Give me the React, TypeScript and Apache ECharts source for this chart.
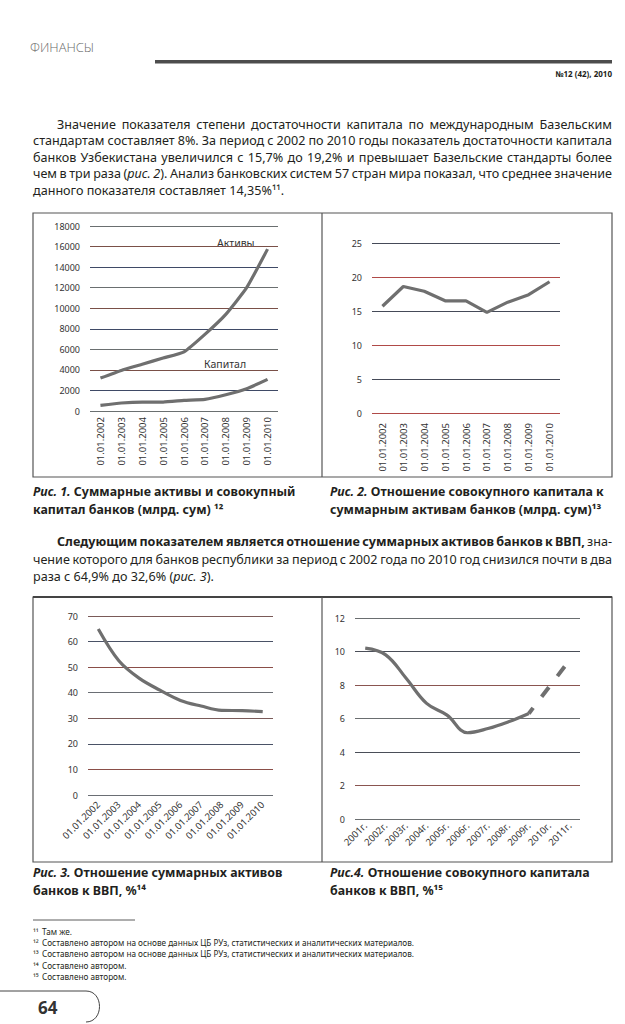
import React, { useEffect, useRef } from 'react';
import * as echarts from 'echarts';

const dateCats = ['01.01.2002', '01.01.2003', '01.01.2004', '01.01.2005', '01.01.2006', '01.01.2007', '01.01.2008', '01.01.2009', '01.01.2010'];
const assets = [3200, 3950, 4550, 5150, 5750, 7450, 9400, 12000, 15750];
const capital = [550, 780, 870, 870, 1030, 1130, 1580, 2170, 3080];
const capToAssets = [15.7, 18.6, 17.9, 16.5, 16.5, 14.8, 16.3, 17.4, 19.3];
const assetsToGdp = [64.9, 52.5, 45.6, 41.0, 37.0, 34.8, 33.1, 33.0, 32.6];
const yearCats = ['2001г.', '2002г.', '2003г.', '2004г.', '2005г.', '2006г.', '2007г.', '2008г.', '2009г.', '2010г.', '2011г.'];
const capToGdp = [10.2, 9.8, 8.4, 6.9, 6.2, 5.15, 5.4, 5.8, 6.3, null, null];
const capToGdpForecast = [null, null, null, null, null, null, null, null, 6.3, 7.9, 9.5];

const FAMILY = '"Noto Sans"';
const FONT = '"Noto Sans", "Open Sans", sans-serif';
const TXT = '#231f20';
const LINE = '#6f6f6f';
const BODY = 12.6;

type Frag = [string, 'n' | 'i' | 'b'];

const fragStyle: Record<string, { fontStyle: string; fontWeight: string }> = {
  n: { fontStyle: 'normal', fontWeight: 'normal' },
  i: { fontStyle: 'italic', fontWeight: 'normal' },
  b: { fontStyle: 'normal', fontWeight: 'bold' },
};

let ctx: CanvasRenderingContext2D | null = null;
function measure(s: string, key: string, size: number) {
  if (!ctx) ctx = document.createElement('canvas').getContext('2d');
  const st = fragStyle[key];
  ctx!.font = `${st.fontStyle} ${st.fontWeight} ${size}px ${FAMILY}`;
  return ctx!.measureText(s).width;
}

function txt(x: number, y: number, text: string, style: any = {}) {
  return {
    type: 'text',
    x,
    y,
    silent: true,
    style: {
      text,
      fontFamily: FONT,
      fontSize: BODY,
      fill: TXT,
      verticalAlign: 'middle',
      align: 'left',
      ...style,
    },
  };
}

// justified line built as rich text with sized gaps
function justified(x: number, y: number, width: number, frags: Frag[], size = BODY) {
  const words: Frag[][] = [];
  let cur: Frag[] = [];
  frags.forEach(([t, k]) => {
    const parts = t.split(' ');
    parts.forEach((p, idx) => {
      if (idx > 0) {
        if (cur.length) words.push(cur);
        cur = [];
      }
      if (p) cur.push([p, k]);
    });
  });
  if (cur.length) words.push(cur);
  let total = 0;
  words.forEach((w) => w.forEach(([t, k]) => (total += measure(t, k, size))));
  const gap = words.length > 1 ? Math.max(2, (width - total) / (words.length - 1)) : 0;
  const rich: any = {
    n: { fontFamily: FONT, fontSize: size, fill: TXT },
    i: { fontFamily: FONT, fontSize: size, fill: TXT, fontStyle: 'italic' },
    b: { fontFamily: FONT, fontSize: size, fill: TXT, fontWeight: 'bold' },
    g: { fontFamily: FONT, fontSize: size, width: gap },
  };
  const str = words.map((w) => w.map(([t, k]) => `{${k}|${t}}`).join('')).join('{g| }');
  return txt(x, y, str, { rich });
}

const capRich = {
  i: { fontFamily: FONT, fontSize: 12.4, fill: TXT, fontStyle: 'italic', fontWeight: 'bold' },
  b: { fontFamily: FONT, fontSize: 12.4, fill: TXT, fontWeight: 'bold' },
};
const bodyRich = {
  n: { fontFamily: FONT, fontSize: BODY, fill: TXT },
  i: { fontFamily: FONT, fontSize: BODY, fill: TXT, fontStyle: 'italic' },
};

function yAxis(gridIndex: number, max: number, interval: number, colors: string[]) {
  return {
    type: 'value',
    gridIndex,
    min: 0,
    max,
    interval,
    axisLine: { show: false },
    axisTick: { show: false },
    axisLabel: { color: '#333', fontSize: 9, fontFamily: FONT, margin: 10, formatter: (v: number) => String(v) },
    splitLine: { lineStyle: { color: colors, width: 1 } },
  };
}

function xAxis(gridIndex: number, data: string[], rotate: number, margin: number) {
  return {
    type: 'category',
    gridIndex,
    data,
    boundaryGap: true,
    axisLine: { show: false },
    axisTick: { show: false },
    axisLabel: { color: '#333', fontSize: 9.5, fontFamily: FONT, rotate, interval: 0, margin },
  };
}

export default function App() {
  const ref = useRef<HTMLDivElement>(null);
  useEffect(() => {
    document.body.style.margin = '0';
    const chart = echarts.init(ref.current!, undefined, { renderer: 'svg' });
    const lineStyle = { color: LINE, width: 3.2 };
    const fn = { fontSize: 8.2 };
    const option: any = {
      animation: false,
      backgroundColor: '#ffffff',
      grid: [
        { left: 90, top: 226, width: 188, height: 185 },
        { left: 372, top: 243, width: 188, height: 170 },
        { left: 88, top: 616, width: 185, height: 179 },
        { left: 355, top: 618, width: 225, height: 201 },
      ],
      xAxis: [
        xAxis(0, dateCats, 90, 6),
        xAxis(1, dateCats, 90, 10),
        xAxis(2, dateCats, 45, 8),
        xAxis(3, yearCats, 45, 5),
      ],
      yAxis: [
        yAxis(0, 18000, 2000, ['#6a6f70', '#3f4a66', '#7a5048']),
        yAxis(1, 25, 5, ['#b04a48', '#454a58']),
        yAxis(2, 70, 10, ['#6a6e74', '#8a4e48', '#4a5266', '#7a5a58']),
        yAxis(3, 12, 2, ['#6a6e70', '#8a5550', '#4a4e58']),
      ],
      series: [
        { type: 'line', name: 'Активы', xAxisIndex: 0, yAxisIndex: 0, data: assets, symbol: 'none', smooth: 0.15, lineStyle },
        { type: 'line', name: 'Капитал', xAxisIndex: 0, yAxisIndex: 0, data: capital, symbol: 'none', smooth: 0.15, lineStyle },
        { type: 'line', xAxisIndex: 1, yAxisIndex: 1, data: capToAssets, symbol: 'none', lineStyle },
        { type: 'line', xAxisIndex: 2, yAxisIndex: 2, data: assetsToGdp, symbol: 'none', smooth: 0.35, lineStyle },
        { type: 'line', xAxisIndex: 3, yAxisIndex: 3, data: capToGdp, symbol: 'none', smooth: 0.4, lineStyle },
        {
          type: 'line', xAxisIndex: 3, yAxisIndex: 3, data: capToGdpForecast, symbol: 'none',
          lineStyle: { color: LINE, width: 4, type: [12, 14], dashOffset: 5 },
        },
      ],
      graphic: [
        // header
        txt(30, 47, 'ФИНАНСЫ', { fontSize: 13, fill: '#6a6a6a', fontWeight: 300, fontFamily: '"Open Sans", sans-serif' }),
        { type: 'rect', silent: true, shape: { x: 155, y: 60, width: 457, height: 3.5 }, style: { fill: '#4d4d4d' } },
        txt(612, 73, '№12 (42), 2010', { fontSize: 8, fontWeight: 'bold', align: 'right' }),
        // paragraph 1
        justified(57, 124, 555, [['Значение показателя степени достаточности капитала по международным Базельским', 'n']]),
        justified(33, 140, 579, [['стандартам составляет 8%. За период с 2002 по 2010 годы показатель достаточности капитала', 'n']]),
        justified(33, 157, 579, [['банков Узбекистана увеличился с 15,7% до 19,2% и превышает Базельские стандарты более', 'n']]),
        justified(33, 173, 579, [['чем в три раза (', 'n'], ['рис. 2', 'i'], ['). Анализ банковских систем 57 стран мира показал, что среднее значение', 'n']]),
        txt(33, 190, 'данного показателя составляет 14,35%¹¹.'),
        // frames row 1
        { type: 'rect', silent: true, shape: { x: 33, y: 213, width: 579, height: 264 }, style: { fill: 'none', stroke: '#555', lineWidth: 1.2 } },
        { type: 'line', silent: true, shape: { x1: 322, y1: 213, x2: 322, y2: 477 }, style: { stroke: '#555', lineWidth: 1.2 } },
        txt(217, 243, 'Активы', { fontSize: 10.5, fill: '#333' }),
        txt(204, 364, 'Капитал', { fontSize: 10.5, fill: '#333' }),
        // captions row 1
        txt(33, 491, '{i|Рис. 1.}{b| Суммарные активы и совокупный}', { rich: capRich }),
        txt(33, 509, '{b|капитал банков (млрд. сум) ¹²}', { rich: capRich }),
        txt(330, 491, '{i|Рис. 2.}{b| Отношение совокупного капитала к}', { rich: capRich }),
        txt(330, 509, '{b|суммарным активам банков (млрд. сум)¹³}', { rich: capRich }),
        // paragraph 2
        justified(57, 541, 555, [['Следующим показателем является отношение суммарных активов банков к ВВП,', 'b'], [' зна-', 'n']]),
        justified(33, 559, 579, [['чение которого для банков республики за период с 2002 года по 2010 год снизился почти в два', 'n']]),
        txt(33, 576, '{n|раза с 64,9% до 32,6% (}{i|рис. 3}{n|).}', { rich: bodyRich }),
        // frames row 2
        { type: 'rect', silent: true, shape: { x: 33, y: 597, width: 579, height: 265 }, style: { fill: 'none', stroke: '#555', lineWidth: 1.2 } },
        { type: 'line', silent: true, shape: { x1: 33, y1: 597, x2: 612, y2: 597 }, style: { stroke: '#444', lineWidth: 2 } },
        { type: 'line', silent: true, shape: { x1: 322, y1: 597, x2: 322, y2: 862 }, style: { stroke: '#555', lineWidth: 1.2 } },
        // captions row 2
        txt(33, 872, '{i|Рис. 3.}{b| Отношение суммарных активов}', { rich: capRich }),
        txt(33, 890, '{b|банков к ВВП, %¹⁴}', { rich: capRich }),
        txt(330, 872, '{i|Рис.4.}{b| Отношение совокупного капитала}', { rich: capRich }),
        txt(330, 890, '{b|банков к ВВП, %¹⁵}', { rich: capRich }),
        // footnotes
        { type: 'line', silent: true, shape: { x1: 33, y1: 920, x2: 135, y2: 920 }, style: { stroke: '#333', lineWidth: 0.8 } },
        txt(33, 931, '¹¹', fn), txt(42, 931, 'Там же.', fn),
        txt(33, 942, '¹²', fn), txt(42, 942, 'Составлено автором на основе данных ЦБ РУз, статистических и аналитических материалов.', fn),
        txt(33, 953, '¹³', fn), txt(42, 953, 'Составлено автором на основе данных ЦБ РУз, статистических и аналитических материалов.', fn),
        txt(33, 965, '¹⁴', fn), txt(42, 965, 'Составлено автором.', fn),
        txt(33, 976, '¹⁵', fn), txt(42, 976, 'Составлено автором.', fn),
        // page number tab
        { type: 'line', silent: true, shape: { x1: 0, y1: 991, x2: 86, y2: 991 }, style: { stroke: '#444', lineWidth: 1 } },
        { type: 'bezierCurve', silent: true, shape: { x1: 86, y1: 991, cpx1: 104, cpy1: 991, cpx2: 104, cpy2: 1022, x2: 86, y2: 1022 }, style: { stroke: '#444', lineWidth: 1, fill: 'none' } },
        txt(38, 1007, '64', { fontSize: 17, fontWeight: 'bold', fill: '#333' }),
      ],
    };
    chart.setOption(option);
    return () => chart.dispose();
  }, []);
  return <div ref={ref} style={{ width: 625, height: 1024 }} />;
}
